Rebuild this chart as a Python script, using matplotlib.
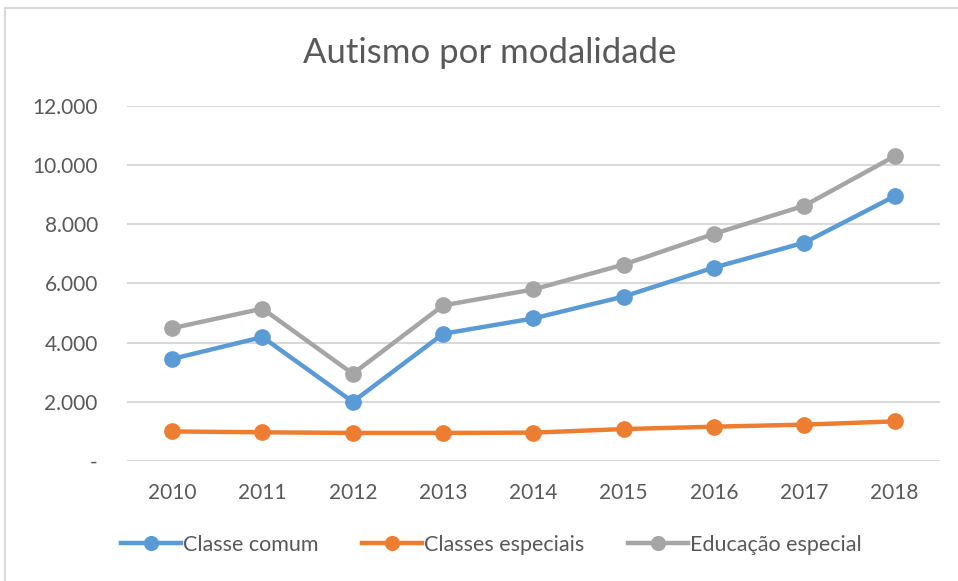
import matplotlib.pyplot as plt
from matplotlib.lines import Line2D

plt.rcParams['font.family'] = ['Lato', 'DejaVu Sans']

anos = ['2010', '2011', '2012', '2013', '2014', '2015', '2016', '2017', '2018']
classe_comum = [3450, 4190, 2000, 4300, 4820, 5560, 6540, 7380, 8950]
classes_especiais = [1000, 970, 950, 950, 960, 1080, 1160, 1230, 1340]
educacao_especial = [4490, 5150, 2950, 5260, 5800, 6640, 7680, 8630, 10300]
yticks = [0, 2000, 4000, 6000, 8000, 10000, 12000]
ytick_labels = ['-', '2.000', '4.000', '6.000', '8.000', '10.000', '12.000']

fig = plt.figure(figsize=(9.58, 5.81), dpi=100)
ax = fig.add_axes([0.1326, 0.2065, 0.8484, 0.6111])

x = range(len(anos))
ax.plot(x, classe_comum, color='#5B9BD5', linewidth=3.2, marker='o', markersize=11, label='Classe comum', zorder=3)
ax.plot(x, classes_especiais, color='#ED7D31', linewidth=3.2, marker='o', markersize=11, label='Classes especiais', zorder=3)
ax.plot(x, educacao_especial, color='#A5A5A5', linewidth=3.2, marker='o', markersize=11, label='Educação especial', zorder=3)

ax.set_xlim(-0.5, len(anos) - 0.5)
ax.set_ylim(0, 12000)
ax.set_xticks(list(x))
ax.set_xticklabels(anos)
ax.set_yticks(yticks)
ax.set_yticklabels(ytick_labels)
ax.grid(axis='y', color='#D9D9D9', linewidth=1.5)
ax.set_axisbelow(True)
for s in ax.spines.values():
    s.set_visible(False)
ax.tick_params(length=0, labelsize=15, colors='#595959')
ax.tick_params(axis='y', pad=21)
ax.tick_params(axis='x', pad=16)

fig.text(0.511, 0.908, 'Autismo por modalidade', ha='center', va='center',
         fontsize=25, color='#595959')

fig.legend(loc='center', bbox_to_anchor=(0.513, 0.062), ncol=3, frameon=False,
           fontsize=15.5, handlelength=2.8, handletextpad=0.1, columnspacing=2.0,
           markerscale=0.9, labelcolor='#595959')

# moldura do gráfico
fig.add_artist(Line2D([4.5 / 958, 4.5 / 958], [0, 1 - 8 / 581], color='#D9D9D9', linewidth=1.5))
fig.add_artist(Line2D([4.5 / 958, 1], [1 - 8 / 581, 1 - 8 / 581], color='#D9D9D9', linewidth=1.5))

plt.savefig('out.png', dpi=100)
